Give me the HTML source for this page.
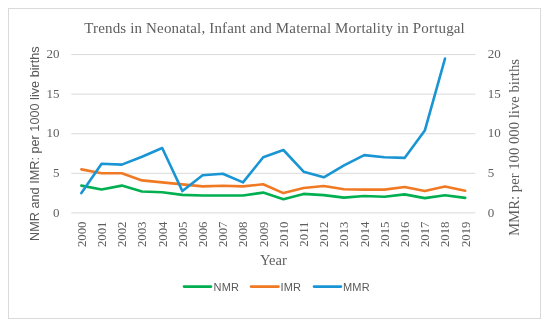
<!DOCTYPE html>
<html><head><meta charset="utf-8"><style>
html,body{margin:0;padding:0;background:#fff;width:550px;height:328px;overflow:hidden}
svg{display:block;will-change:transform}
.serif{font-family:"Liberation Serif",serif;fill:#5e5e5e}
.sans{font-family:"Liberation Sans",sans-serif;fill:#595959}
</style></head><body>
<svg width="550" height="328" viewBox="0 0 550 328">
<rect x="8.5" y="8.5" width="532" height="310" fill="#fff" stroke="#dadada" stroke-width="1"/>
<text class="serif" x="84.3" y="33.2" font-size="15" letter-spacing="0.15">Trends in Neonatal, Infant and Maternal Mortality in Portugal</text>
<g stroke="#d9d9d9" stroke-width="1"><line x1="71.3" x2="475.3" y1="212.90" y2="212.90"/><line x1="71.3" x2="475.3" y1="173.32" y2="173.32"/><line x1="71.3" x2="475.3" y1="133.75" y2="133.75"/><line x1="71.3" x2="475.3" y1="94.17" y2="94.17"/><line x1="71.3" x2="475.3" y1="54.60" y2="54.60"/></g>
<g class="serif" font-size="13"><text x="59.5" y="216.60" text-anchor="end">0</text><text x="59.5" y="177.02" text-anchor="end">5</text><text x="59.5" y="137.45" text-anchor="end">10</text><text x="59.5" y="97.88" text-anchor="end">15</text><text x="59.5" y="58.30" text-anchor="end">20</text><text x="487.8" y="216.60">0</text><text x="487.8" y="177.02">5</text><text x="487.8" y="137.45">10</text><text x="487.8" y="97.88">15</text><text x="487.8" y="58.30">20</text></g>
<g class="serif" font-size="12.8"><text transform="translate(85.70,221.5) rotate(-90)" text-anchor="end">2000</text><text transform="translate(105.90,221.5) rotate(-90)" text-anchor="end">2001</text><text transform="translate(126.10,221.5) rotate(-90)" text-anchor="end">2002</text><text transform="translate(146.30,221.5) rotate(-90)" text-anchor="end">2003</text><text transform="translate(166.50,221.5) rotate(-90)" text-anchor="end">2004</text><text transform="translate(186.70,221.5) rotate(-90)" text-anchor="end">2005</text><text transform="translate(206.90,221.5) rotate(-90)" text-anchor="end">2006</text><text transform="translate(227.10,221.5) rotate(-90)" text-anchor="end">2007</text><text transform="translate(247.30,221.5) rotate(-90)" text-anchor="end">2008</text><text transform="translate(267.50,221.5) rotate(-90)" text-anchor="end">2009</text><text transform="translate(287.70,221.5) rotate(-90)" text-anchor="end">2010</text><text transform="translate(307.90,221.5) rotate(-90)" text-anchor="end">2011</text><text transform="translate(328.10,221.5) rotate(-90)" text-anchor="end">2012</text><text transform="translate(348.30,221.5) rotate(-90)" text-anchor="end">2013</text><text transform="translate(368.50,221.5) rotate(-90)" text-anchor="end">2014</text><text transform="translate(388.70,221.5) rotate(-90)" text-anchor="end">2015</text><text transform="translate(408.90,221.5) rotate(-90)" text-anchor="end">2016</text><text transform="translate(429.10,221.5) rotate(-90)" text-anchor="end">2017</text><text transform="translate(449.30,221.5) rotate(-90)" text-anchor="end">2018</text><text transform="translate(469.50,221.5) rotate(-90)" text-anchor="end">2019</text></g>
<text class="sans" font-size="12.7" transform="translate(38.8,143.6) rotate(-90)" text-anchor="middle">NMR and IMR: per 1000 live births</text>
<text class="serif" font-size="14.5" transform="translate(518.6,147.5) rotate(-90)" text-anchor="middle" textLength="177" lengthAdjust="spacingAndGlyphs">MMR: per 100 000 live births</text>
<text class="serif" font-size="14.5" x="260" y="265.3">Year</text>
<g fill="none" stroke-width="2.6" stroke-linejoin="round" stroke-linecap="round">
<polyline stroke="#00B050" points="81.4,185.6 101.6,189.5 121.8,185.6 142.0,191.5 162.2,192.3 182.4,194.9 202.6,195.5 222.8,195.5 243.0,195.5 263.2,192.6 283.4,199.3 303.6,193.9 323.8,195.1 344.0,197.6 364.2,196.0 384.4,196.8 404.6,194.4 424.8,198.1 445.0,195.3 465.2,197.9"/>
<polyline stroke="#F07A24" points="81.4,169.4 101.6,173.3 121.8,173.3 142.0,180.4 162.2,182.4 182.4,184.4 202.6,186.4 222.8,185.8 243.0,186.4 263.2,184.2 283.4,193.1 303.6,188.0 323.8,186.0 344.0,189.3 364.2,189.6 384.4,189.6 404.6,187.0 424.8,191.1 445.0,186.4 465.2,190.7"/>
<polyline stroke="#1A95D3" points="81.4,193.1 101.6,163.8 121.8,164.6 142.0,156.7 162.2,148.0 182.4,191.1 202.6,175.3 222.8,173.7 243.0,182.4 263.2,157.3 283.4,150.0 303.6,171.7 323.8,177.3 344.0,165.4 364.2,155.1 384.4,157.3 404.6,157.9 424.8,130.6 445.0,58.6"/>
</g>
<g stroke-width="2.6" stroke-linecap="round">
<line x1="184" x2="211" y1="286.6" y2="286.6" stroke="#00B050"/>
<line x1="251" x2="278.5" y1="286.6" y2="286.6" stroke="#F07A24"/>
<line x1="314" x2="341" y1="286.6" y2="286.6" stroke="#1A95D3"/>
</g>
<g class="sans" font-size="11" letter-spacing="0.15">
<text x="213.6" y="291">NMR</text>
<text x="280.6" y="291">IMR</text>
<text x="343" y="291">MMR</text>
</g>
</svg>
</body></html>
